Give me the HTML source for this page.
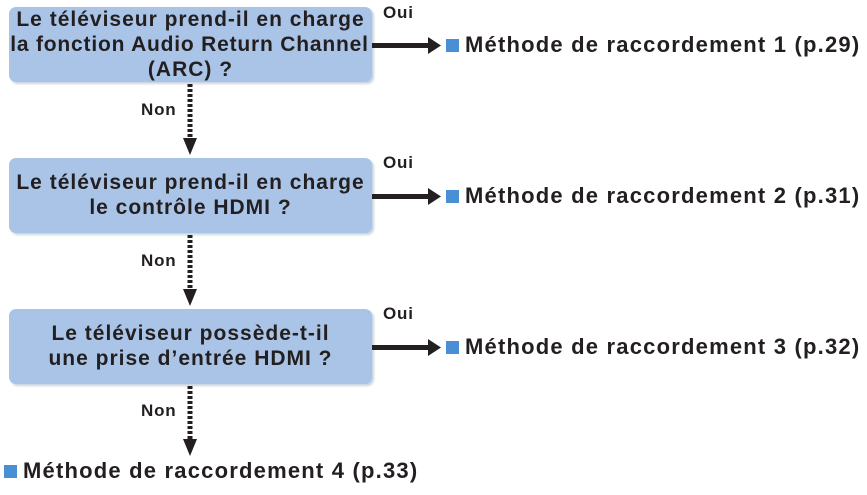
<!DOCTYPE html>
<html><head><meta charset="utf-8"><style>
body{margin:0;width:867px;height:495px;background:#fff;position:relative;overflow:hidden;font-family:"Liberation Sans",sans-serif;font-weight:bold;color:#231f20}
.box{position:absolute;left:9px;width:363px;background:#a9c4e6;border-radius:7px;box-shadow:2px 2px 2px #c9d3df;text-align:center;font-size:21px;line-height:25px;letter-spacing:1px;white-space:nowrap}
.t{position:absolute;white-space:nowrap}
.res{position:absolute;font-size:22px;white-space:nowrap;letter-spacing:1.2px}
.sq{display:inline-block;width:13px;height:13px;background:#4a8fd6;margin-right:6px;vertical-align:0px}
.small{font-size:17px;letter-spacing:0.8px}
</style></head><body>
<div class="box" style="top:7px;height:75px"><div style="padding-top:0px">Le téléviseur prend-il en charge<br><span style="letter-spacing:0.8px;margin-left:-2px">la fonction Audio Return Channel</span><br>(ARC) ?</div></div>
<div class="box" style="top:158px;height:75px"><div style="padding-top:12px">Le téléviseur prend-il en charge<br>le contrôle HDMI ?</div></div>
<div class="box" style="top:309px;height:75px"><div style="padding-top:12px">Le téléviseur possède-t-il<br>une prise d’entrée HDMI ?</div></div>
<svg width="867" height="495" style="position:absolute;left:0;top:0">
<g fill="#231f20">
<rect x="372" y="43" width="58" height="5"/><polygon points="428,37 441,45.5 428,54"/>
<rect x="372" y="194" width="58" height="5"/><polygon points="428,188 441,196.5 428,205"/>
<rect x="372" y="345" width="58" height="5"/><polygon points="428,339 441,347.5 428,356"/>
<polygon points="183,138 197,138 190,155"/>
<polygon points="183,289 197,289 190,306"/>
<polygon points="183,439 197,439 190,456"/>
</g>
<g stroke="#231f20" stroke-width="5" stroke-dasharray="3,2">
<line x1="190" y1="84" x2="190" y2="139"/>
<line x1="190" y1="235" x2="190" y2="290"/>
<line x1="190" y1="386" x2="190" y2="440"/>
</g>
</svg>
<div class="t small" style="left:383px;top:3px">Oui</div>
<div class="t small" style="left:383px;top:153px">Oui</div>
<div class="t small" style="left:383px;top:304px">Oui</div>
<div class="t small" style="left:141px;top:100px">Non</div>
<div class="t small" style="left:141px;top:251px">Non</div>
<div class="t small" style="left:141px;top:401px">Non</div>
<div class="res" style="left:446px;top:32px"><span class="sq"></span>Méthode de raccordement 1 (p.29)</div>
<div class="res" style="left:446px;top:183px"><span class="sq"></span>Méthode de raccordement 2 (p.31)</div>
<div class="res" style="left:446px;top:334px"><span class="sq"></span>Méthode de raccordement 3 (p.32)</div>
<div class="res" style="left:4px;top:458px"><span class="sq"></span>Méthode de raccordement 4 (p.33)</div>
</body></html>
